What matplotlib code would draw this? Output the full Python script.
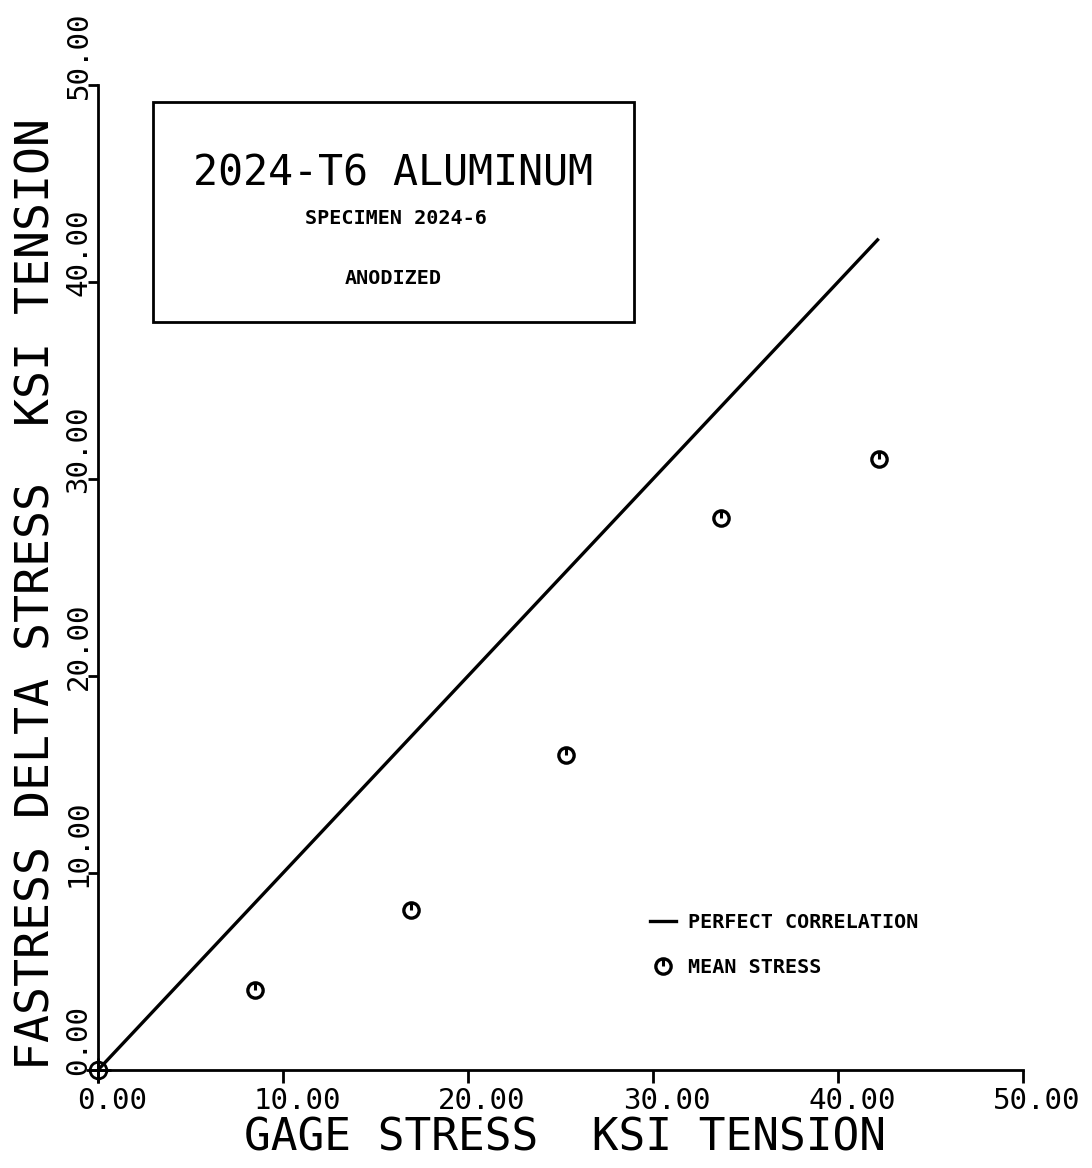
import matplotlib
matplotlib.use("Agg")
import matplotlib.pyplot as plt
import matplotlib.transforms as mtransforms
from matplotlib.path import Path
from matplotlib.lines import Line2D
from matplotlib.legend_handler import HandlerTuple

# ---- data ----
gage_stress = [8.5, 16.9, 25.3, 33.7, 42.2]
mean_stress = [4.05, 8.1, 16.0, 28.0, 31.0]
line_x = [0.0, 42.2]
line_y = [0.0, 42.2]
origin_x = [0.0]
origin_y = [0.0]
tick_vals = [0, 10, 20, 30, 40, 50]
tick_labels = ["0.00", "10.00", "20.00", "30.00", "40.00", "50.00"]
title_main = "2024-T6 ALUMINUM"
title_sub1 = "SPECIMEN 2024-6"
title_sub2 = "ANODIZED"
xlabel = "GAGE STRESS  KSI TENSION"
ylabel = "FASTRESS DELTA STRESS  KSI TENSION"
legend_labels = ["PERFECT CORRELATION", "MEAN STRESS"]

MONO = "DejaVu Sans Mono"
plt.rcParams["font.family"] = [MONO]

fig = plt.figure(figsize=(10.92, 11.68), dpi=100)
ax = fig.add_axes([98 / 1092, 98 / 1168, 925 / 1092, 985 / 1168])
ax.set_xlim(0, 50)
ax.set_ylim(0, 50)

for s in ["top", "right"]:
    ax.spines[s].set_visible(False)
for s in ["left", "bottom"]:
    ax.spines[s].set_linewidth(2.0)
    ax.spines[s].set_color("black")

# perfect correlation line
ax.plot(line_x, line_y, color="black", lw=2.4, solid_capstyle="butt", zorder=3)

# mean stress markers: circle with a small vertical stroke
tick_path = Path([(0, 0.05), (0, 1.0)], [Path.MOVETO, Path.LINETO])
ax.plot(gage_stress, mean_stress, ls="none", marker="o", ms=11, mfc="none",
        mec="black", mew=2.4, zorder=4, clip_on=False)
ax.plot(gage_stress, mean_stress, ls="none", marker=tick_path, ms=10,
        mec="black", mew=2.2, zorder=4, clip_on=False)

# origin symbol
ax.plot(origin_x, origin_y, ls="none", marker="o", ms=12, mfc="none",
        mec="black", mew=2.0, zorder=5, clip_on=False)
ax.plot(origin_x, origin_y, ls="none", marker="+", ms=18,
        mec="black", mew=2.0, zorder=5, clip_on=False)

# ticks
ax.set_xticks(tick_vals)
ax.set_xticklabels(tick_labels)
ax.set_yticks(tick_vals)
ax.set_yticklabels(tick_labels)
ax.tick_params(axis="x", direction="out", length=9, width=2.0, pad=3,
               labelsize=21)
ax.tick_params(axis="y", direction="out", length=7, width=2.0, pad=-3,
               labelsize=21)
for lab in ax.get_xticklabels():
    lab.set_transform(lab.get_transform() +
                      mtransforms.ScaledTranslation(14 / 100, 0, fig.dpi_scale_trans))
for lab in ax.get_yticklabels():
    lab.set_rotation(90)
    lab.set_va("center")
    lab.set_transform(lab.get_transform() +
                      mtransforms.ScaledTranslation(0, 30 / 100, fig.dpi_scale_trans))

# axis labels
fig.text(565 / 1092, 1 - 1138 / 1168, xlabel, ha="center", va="center",
         fontsize=32, family=MONO)
fig.text(37 / 1092, 1 - 594 / 1168, ylabel, ha="center", va="center",
         rotation=90, fontsize=33.5, family=MONO)

# title box
box = plt.Rectangle((153 / 1092, 1 - 322 / 1168), (634 - 153) / 1092,
                    (322 - 102) / 1168, transform=fig.transFigure,
                    fill=False, ec="black", lw=2.0)
fig.add_artist(box)
fig.text(393 / 1092, 1 - 173 / 1168, title_main, ha="center", va="center",
         fontsize=30, family=MONO)
fig.text(396 / 1092, 1 - 218 / 1168, title_sub1, ha="center", va="center",
         fontsize=14.5, family=MONO, fontweight="bold")
fig.text(393 / 1092, 1 - 278 / 1168, title_sub2, ha="center", va="center",
         fontsize=14.5, family=MONO, fontweight="bold")

# legend
h_line = Line2D([], [], color="black", lw=2.4)
h_c = Line2D([], [], ls="none", marker="o", ms=11, mfc="none", mec="black", mew=2.4)
h_t = Line2D([], [], ls="none", marker=tick_path, ms=10, mec="black", mew=2.2)
leg = ax.legend([h_line, (h_c, h_t)], legend_labels,
                handler_map={tuple: HandlerTuple(ndivide=1, pad=0)},
                loc="upper left", bbox_to_anchor=(650 / 1092, 1 - 913 / 1168),
                bbox_transform=fig.transFigure, frameon=False,
                prop={"family": MONO, "weight": "bold", "size": 14.5},
                handlelength=1.3, handletextpad=0.6, labelspacing=1.3,
                borderaxespad=0, borderpad=0)

fig.savefig("out.png", dpi=100, facecolor="white")
